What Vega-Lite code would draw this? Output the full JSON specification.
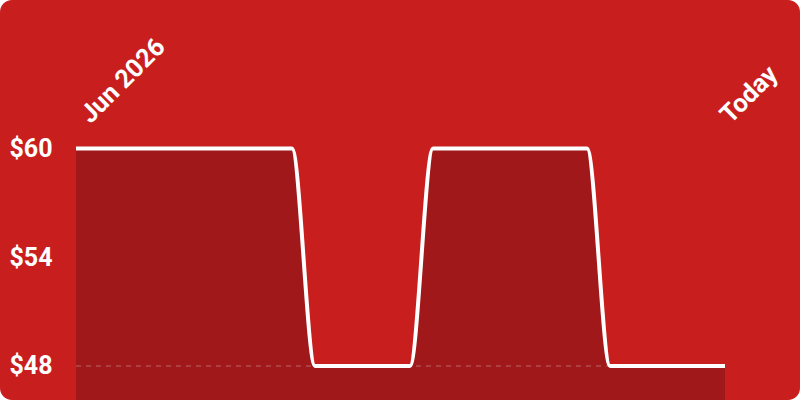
{
  "$schema": "https://vega.github.io/schema/vega-lite/v6.json",
  "width": 800,
  "height": 400,
  "autosize": "none",
  "padding": 0,
  "background": "#ffffff",
  "config": {
    "view": {"fill": "#C91E1E", "stroke": null, "cornerRadius": 12},
    "font": "Roboto"
  },
  "data": {
    "values": [
      {"day": 0, "price": 60},
      {"day": 9.32, "price": 60},
      {"day": 10.31, "price": 48},
      {"day": 14.41, "price": 48},
      {"day": 15.4, "price": 60},
      {"day": 22.05, "price": 60},
      {"day": 23.04, "price": 48},
      {"day": 28, "price": 48}
    ]
  },
  "encoding": {
    "x": {
      "field": "day",
      "type": "quantitative",
      "scale": {"domain": [-3.279, 31.236], "nice": false, "zero": false},
      "axis": {
        "orient": "top",
        "offset": -124,
        "values": [0, 28],
        "labelExpr": "datum.value == 0 ? 'Jun 2026' : 'Today'",
        "labelAngle": -45,
        "labelAlign": "left",
        "labelBaseline": "alphabetic",
        "labelOffset": {"condition": {"test": "datum.value == 0", "value": 14}, "value": 5},
        "labelPadding": 0,
        "labelColor": "#ffffff",
        "labelFontSize": 25.5,
        "labelFontWeight": "bold",
        "labelOverlap": false,
        "labelFlush": false,
        "labelBound": false,
        "domain": false,
        "ticks": false,
        "tickSize": 0,
        "grid": false,
        "title": null
      }
    },
    "y": {
      "field": "price",
      "type": "quantitative",
      "scale": {"domain": [46.124, 68.19], "nice": false, "zero": false},
      "axis": {
        "orient": "left",
        "offset": -52,
        "values": [48, 54, 60],
        "labelExpr": "'$' + datum.value",
        "labelPadding": 0,
        "labelColor": "#ffffff",
        "labelFontSize": 25,
        "labelFontWeight": "bold",
        "labelAlign": "right",
        "labelBaseline": "middle",
        "labelOverlap": false,
        "labelFlush": false,
        "labelBound": false,
        "domain": false,
        "ticks": false,
        "tickSize": 0,
        "grid": false,
        "title": null
      }
    }
  },
  "layer": [
    {
      "mark": {"type": "area", "interpolate": "monotone", "color": "#A01819"}
    },
    {
      "mark": {"type": "rule", "color": "#ffffff", "opacity": 0.22, "strokeWidth": 1.5, "strokeDash": [5, 5]},
      "encoding": {
        "x": {"aggregate": "min", "field": "day", "type": "quantitative"},
        "x2": {"aggregate": "max", "field": "day"},
        "y": {"aggregate": "min", "field": "price", "type": "quantitative"}
      }
    },
    {
      "mark": {"type": "line", "interpolate": "monotone", "color": "#ffffff", "strokeWidth": 4, "strokeJoin": "round"}
    }
  ]
}
